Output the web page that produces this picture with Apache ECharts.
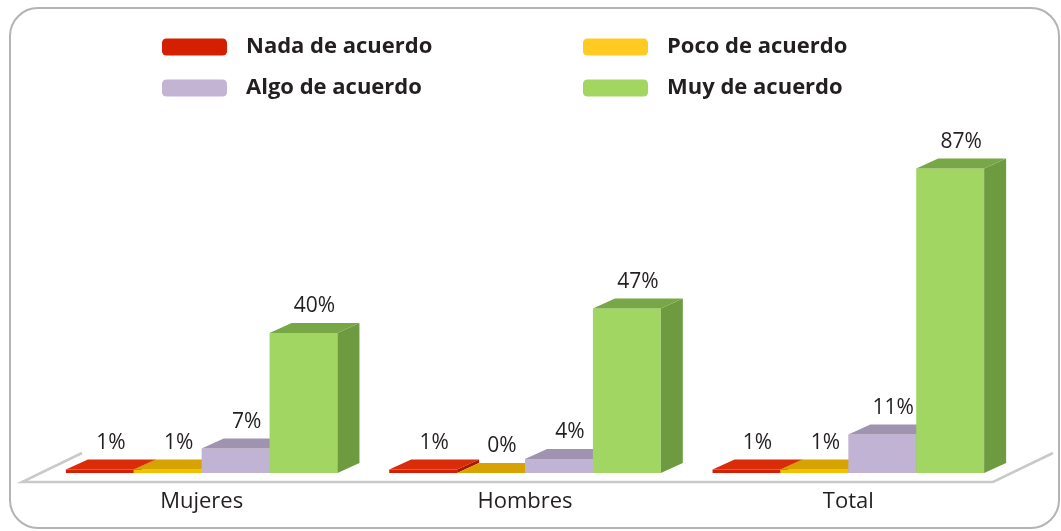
<!DOCTYPE html>
<html>
<head>
<meta charset="utf-8">
<script src="https://cdn.jsdelivr.net/npm/echarts@6/dist/echarts.min.js"></script>
<style>
  html, body { margin: 0; padding: 0; background: #fff; }
  #chart { width: 1061px; height: 531px; }
</style>
</head>
<body>
<div id="chart"></div>
<script>
// datos
var categories = ["Mujeres", "Hombres", "Total"];
var seriesNames = ["Nada de acuerdo", "Poco de acuerdo", "Algo de acuerdo", "Muy de acuerdo"];
var nada = [1, 1, 1];
var poco = [1, 0, 1];
var algo = [7, 4, 11];
var muy = [40, 47, 87];

// colores: leyenda, frente, arriba, lado
var palette = [
  { legend: "#d42000", front: "#d42000", top: "#d92c08", side: "#a81a00" },
  { legend: "#ffcb22", front: "#f2c200", top: "#d6a300", side: "#b88c00" },
  { legend: "#c4b4d4", front: "#c1b3d4", top: "#a093b0", side: "#9a8cab" },
  { legend: "#a2d660", front: "#a1d663", top: "#78a845", side: "#6e9a40" }
];

var DX = 22, DY = -10; // profundidad del efecto 3D

function toData(arr) {
  return arr.map(function (v, i) { return [i, v]; });
}

function barRender(k) {
  var c = palette[k];
  return function (params, api) {
    var cat = api.value(0), v = api.value(1);
    var base = api.coord([cat, 0]);
    var top = api.coord([cat, v]);
    var band = api.size([1, 0])[0];
    var bw = band * 0.84 / 4;
    var x0 = base[0] - 2 * bw + k * bw;
    var x1 = x0 + bw;
    var yb = base[1], yt = top[1];
    return {
      type: "group",
      children: [
        { type: "rect", shape: { x: x0, y: yt, width: bw, height: yb - yt }, style: { fill: c.front } },
        { type: "polygon", shape: { points: [[x1, yb], [x1 + DX, yb + DY], [x1 + DX, yt + DY], [x1, yt]] }, style: { fill: c.side } },
        { type: "polygon", shape: { points: [[x0, yt], [x1, yt], [x1 + DX, yt + DY], [x0 + DX, yt + DY]] }, style: { fill: c.top } },
        {
          type: "text",
          style: {
            x: x0 + bw / 2 + DX / 2, y: yt + DY - 6,
            text: v + "%", align: "center", verticalAlign: "bottom",
            fontSize: 21, fontFamily: "Open Sans", fill: "#231f20"
          }
        }
      ]
    };
  };
}

function floorRender(params, api) {
  var cs = params.coordSys;
  var fy = cs.y + cs.height + 9;
  var lx = cs.x - 18, rx = cs.x + cs.width - 17;
  return {
    type: "polyline",
    shape: { points: [[lx + 60, fy - 29], [lx, fy], [rx, fy], [rx + 60, fy - 29]] },
    style: { stroke: "#c9c9c9", lineWidth: 2.5, fill: null }
  };
}

var allValues = [nada, poco, algo, muy];

var series = [{
  type: "custom",
  name: "piso",
  renderItem: floorRender,
  data: [[0, 0]],
  silent: true
}];
allValues.forEach(function (arr, k) {
  series.push({
    type: "custom",
    name: seriesNames[k],
    renderItem: barRender(k),
    itemStyle: { color: palette[k].legend },
    legendIcon: "roundRect",
    encode: { x: 0, y: 1 },
    data: toData(arr)
  });
});

var legendCommon = {
  orient: "vertical",
  top: 35,
  padding: 0,
  itemWidth: 65,
  itemHeight: 17,
  itemGap: 17,
  selectedMode: false,
  textStyle: { fontSize: 22, fontWeight: "bold", fontFamily: "Open Sans", color: "#231f20", padding: [0, 0, 0, 14], lineHeight: 24 }
};

var myChart = echarts.init(document.getElementById("chart"));
myChart.setOption({
  animation: false,
  graphic: [{
    type: "rect",
    shape: { x: 10, y: 8, width: 1049, height: 520, r: 28 },
    style: { fill: null, stroke: "#b4b4b8", lineWidth: 2 },
    z: -1
  }],
  legend: [
    Object.assign({}, legendCommon, { left: 162, data: [seriesNames[0], seriesNames[2]] }),
    Object.assign({}, legendCommon, { left: 583, data: [seriesNames[1], seriesNames[3]] })
  ],
  grid: { left: 40, right: 51, top: 123, bottom: 58 },
  xAxis: {
    type: "category",
    data: categories,
    axisLine: { show: false },
    axisTick: { show: false },
    axisLabel: { margin: 18, fontSize: 22, fontFamily: "Open Sans", color: "#231f20" }
  },
  yAxis: {
    type: "value",
    min: 0,
    max: 100,
    show: false,
    splitLine: { show: false }
  },
  series: series
});
</script>
</body>
</html>
